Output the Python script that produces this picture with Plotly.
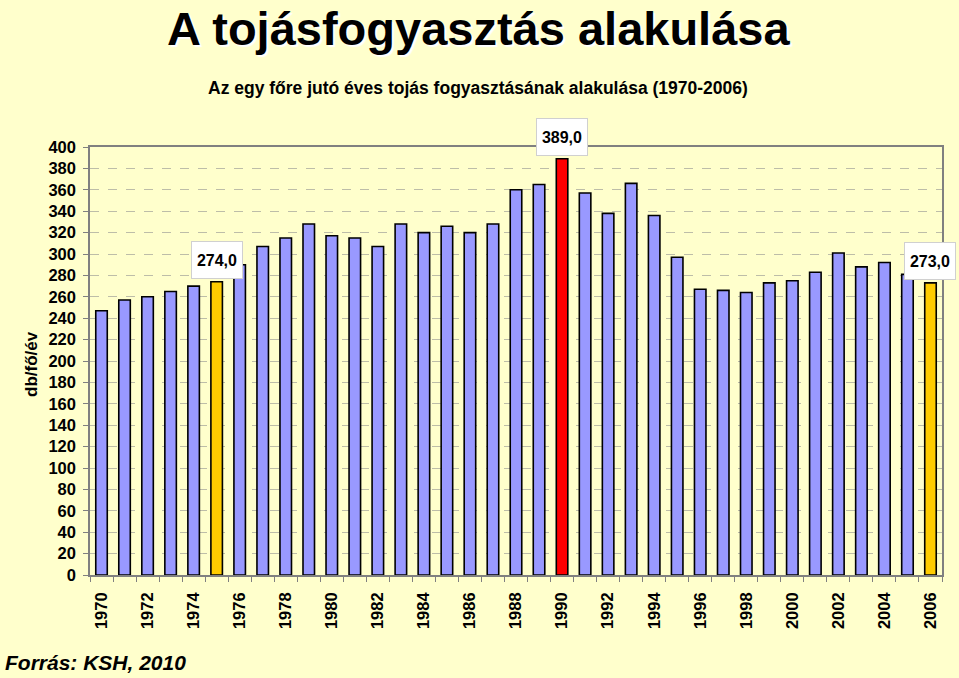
import plotly.graph_objects as go

years = list(range(1970, 2007))
values = [247, 257, 260, 265, 270, 274, 290, 307, 315, 328,
          317, 315, 307, 328, 320, 326, 320, 328, 360, 365,
          389, 357, 338, 366, 336, 297, 267, 266, 264, 273,
          275, 283, 301, 288, 292, 281, 273]
yellow_years = [1975, 2006]
red_years = [1990]
label_years = [1975, 1990, 2006]
x_tick_years = list(range(1970, 2007, 2))
y_ticks = list(range(0, 401, 20))

title_text = "A tojásfogyasztás alakulása"
subtitle_text = "Az egy főre jutó éves tojás fogyasztásának alakulása (1970-2006)"
y_title = "db/fő/év"
source_text = "Forrás: KSH, 2010"

BLUE = "#9999FF"
YELLOW = "#FFCC00"
RED = "#FF0000"
BG = "#FFFFCC"
FONT = "Liberation Sans, Arial, sans-serif"

colors = [RED if y in red_years else YELLOW if y in yellow_years else BLUE for y in years]

fig = go.Figure()
fig.add_trace(go.Bar(
    x=years, y=values,
    marker=dict(color=colors, line=dict(color="#000000", width=1.6)),
    hoverinfo="x+y",
))

for yr in label_years:
    v = values[years.index(yr)]
    fig.add_annotation(
        x=yr, y=v, xref="x", yref="y",
        text=f"{v:.1f}".replace(".", ","),
        showarrow=False, yanchor="bottom", xanchor="center", yshift=3,
        width=50, height=36,
        bgcolor="#FFFFFF", bordercolor="#D0D0D0", borderwidth=1, borderpad=0,
        font=dict(family=FONT, size=16, color="#000000", weight="bold"),
    )

fig.update_layout(
    width=959, height=678,
    paper_bgcolor=BG, plot_bgcolor=BG,
    margin=dict(l=90, r=17, t=147, b=103),
    showlegend=False,
    bargap=0.5,
    font=dict(family=FONT, color="#000000"),
)

H_PLOT = 678 - 147 - 103
W_PLOT = 959 - 90 - 17

def px_to_paper_y(py):
    return (678 - 103 - py) / H_PLOT

def px_to_paper_x(px):
    return (px - 90) / W_PLOT

fig.add_annotation(
    x=px_to_paper_x(478), y=px_to_paper_y(28), xref="paper", yref="paper",
    xanchor="center", yanchor="middle", showarrow=False, text=title_text,
    font=dict(family=FONT, size=47, color="#000000", weight="bold",
              shadow="2px 2px 1px #ffffff"),
)
fig.add_annotation(
    x=px_to_paper_x(478), y=px_to_paper_y(88), xref="paper", yref="paper",
    xanchor="center", yanchor="middle", showarrow=False, text=subtitle_text,
    font=dict(family=FONT, size=17.5, color="#000000", weight="bold"),
)
fig.add_annotation(
    x=px_to_paper_x(3), y=px_to_paper_y(662), xref="paper", yref="paper",
    xanchor="left", yanchor="middle", showarrow=False, text=source_text,
    font=dict(family=FONT, size=21, color="#000000", weight="bold", style="italic"),
)
fig.add_annotation(
    x=px_to_paper_x(31), y=px_to_paper_y(364), xref="paper", yref="paper",
    xanchor="center", yanchor="middle", showarrow=False, text=y_title, textangle=-90,
    font=dict(family=FONT, size=17, color="#000000", weight="bold"),
)

fig.update_xaxes(
    range=[1969.5, 2006.5],
    tickmode="array", tickvals=x_tick_years, ticktext=[str(y) for y in x_tick_years],
    tickangle=-90, ticks="", ticklabelstandoff=9,
    tickfont=dict(family=FONT, size=16.5, color="#000000", weight="bold"),
    showgrid=False, zeroline=False,
    showline=True, linecolor="#808080", linewidth=1.5, mirror=True,
    minor=dict(tickmode="array", tickvals=[y + 0.5 for y in range(1969, 2007)],
               ticks="outside", ticklen=5, tickcolor="#808080", tickwidth=1, showgrid=False),
)
fig.update_yaxes(
    range=[0, 400],
    tickmode="array", tickvals=y_ticks, ticktext=[str(v) for v in y_ticks],
    ticks="outside", ticklen=5, tickcolor="#808080", tickwidth=1,
    ticklabelstandoff=4,
    tickfont=dict(family=FONT, size=16.5, color="#000000", weight="bold"),
    showgrid=True, gridcolor="#BDBDA8", griddash="dash", gridwidth=1,
    zeroline=False,
    showline=True, linecolor="#808080", linewidth=1.5, mirror=True,
)

fig.write_html("out.html")
